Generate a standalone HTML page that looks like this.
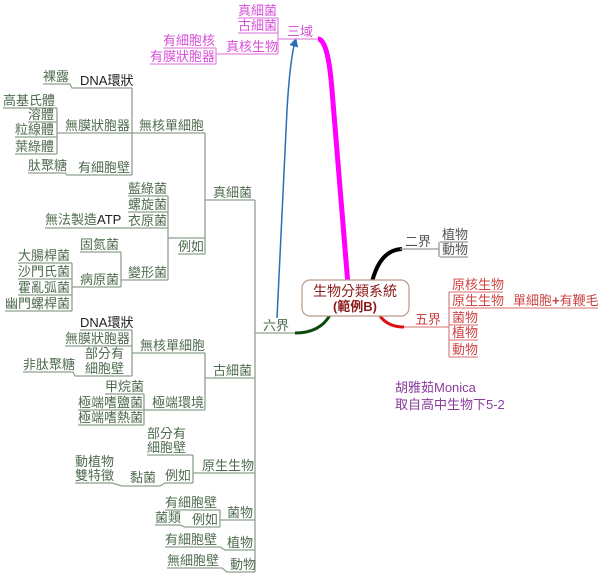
<!DOCTYPE html>
<html><head><meta charset="utf-8"><style>
html,body{margin:0;padding:0;background:#fff;width:600px;height:578px;overflow:hidden}
svg text{font-family:"Liberation Sans","Noto Sans CJK TC",sans-serif;font-size:13px}
.g{fill:#4f6b4f}.gl{stroke:#8fa08f;stroke-width:1.3;fill:none}
.m{fill:#d94fd9}.ml{stroke:#e28be2;stroke-width:1.3;fill:none}
.r{fill:#cc4444}.rl{stroke:#de8a8a;stroke-width:1.3;fill:none}
.k{fill:#555}.kl{stroke:#999;stroke-width:1.3;fill:none}
</style></head><body>
<svg width="600" height="578" viewBox="0 0 600 578" xmlns="http://www.w3.org/2000/svg">
<defs><marker id="ar" markerWidth="6" markerHeight="6" refX="3" refY="3" orient="auto"><path d="M0,0 L6,3 L0,6 z" fill="#2a6fb5"/></marker></defs>
<path d="M318,39 Q328,39 332,90 L348,285" stroke="#ff00ff" stroke-width="5" fill="none"/>
<path d="M277,318 L287,110 Q290,60 295,42" stroke="#2a6fb5" stroke-width="1.5" fill="none" marker-end="url(#ar)"/>
<path d="M372,282 Q380,250 402,249" stroke="#000" stroke-width="4" fill="none"/>
<path d="M380,316 Q388,327 404,327" stroke="#dd1111" stroke-width="3" fill="none"/>
<path d="M330,315 Q320,333 295,333" stroke="#0d4a0d" stroke-width="3" fill="none"/>
<rect x="302" y="280" width="107" height="36" rx="8" fill="#fff" stroke="#b89a8a" stroke-width="1.2"/>
<text x="355" y="296" text-anchor="middle" fill="#8b1a1a" style="font-size:14px">生物分類系統</text>
<text x="355" y="311" text-anchor="middle" fill="#8b1a1a" font-weight="bold">(範例B)</text>

<g class="ml"><path d="M238,18H278M238,33H278M226,54H278M278,18V54M278,39H318M163,48H216M150,64H216M216,48V64M216,54H226"/></g>
<g class="m"><text x="238" y="15">真細菌</text><text x="238" y="30">古細菌</text><text x="287" y="36">三域</text><text x="226" y="51">真核生物</text><text x="163" y="45">有細胞核</text><text x="150" y="61">有膜狀胞器</text></g>

<g class="gl">
<path d="M43,84H70L72,88H132M132,88V175M65,133H205M3,108H57M28,122H57M15,137H57M15,154H57M57,108V154M57,133H65M28,173H65L67,175H132"/>
<path d="M205,133V254M205,200H255M128,196H168M128,212H168M128,228H168M45,228H118L120,228H128M128,280H168M168,196V280M168,238H205M178,254H205M80,252H121M80,287H121M121,252V287M121,280H128M18,263H72M18,279H72M18,295H72M5,311H72M72,263V311M72,287H80"/>
<path d="M255,200V572M255,333H295"/>
<path d="M80,330H132M65,346H132M85,376H132M23,372H73L75,376H85M132,330V376M132,353H205M205,353V410M205,378H255M105,394H144M78,410H144M78,425H144M144,394V425M144,410H205"/>
<path d="M147,455H193M75,483H112L122,486H160L165,483H193M193,455V483M193,473H255M165,510H220M155,525H180L185,527H220M220,510V527M220,520H255M165,547H220L225,550H255M167,568H222L227,572H255"/>
</g>
<g class="g">
<text x="43" y="81">裸露</text><text x="80" y="85" fill="#222">DNA環狀</text>
<text x="3" y="105">高基氏體</text><text x="28" y="119">溶體</text><text x="15" y="134">粒線體</text><text x="15" y="151">葉綠體</text>
<text x="65" y="130">無膜狀胞器</text><text x="139" y="130">無核單細胞</text>
<text x="28" y="170">肽聚糖</text><text x="78" y="172">有細胞壁</text>
<text x="213" y="197">真細菌</text>
<text x="128" y="193">藍綠菌</text><text x="128" y="209">螺旋菌</text><text x="128" y="225">衣原菌</text><text x="45" y="224">無法製造<tspan fill="#222">ATP</tspan></text>
<text x="178" y="251">例如</text><text x="128" y="277">變形菌</text>
<text x="80" y="249">固氮菌</text><text x="80" y="284">病原菌</text>
<text x="18" y="260">大腸桿菌</text><text x="18" y="276">沙門氏菌</text><text x="18" y="292">霍亂弧菌</text><text x="5" y="308">幽門螺桿菌</text>
<text x="263" y="330">六界</text>
<text x="80" y="327" fill="#222">DNA環狀</text><text x="65" y="343">無膜狀胞器</text>
<text x="85" y="358">部分有</text><text x="85" y="373">細胞壁</text><text x="23" y="369">非肽聚糖</text>
<text x="140" y="350">無核單細胞</text><text x="213" y="375">古細菌</text>
<text x="105" y="391">甲烷菌</text><text x="78" y="407">極端嗜鹽菌</text><text x="78" y="422">極端嗜熱菌</text><text x="152" y="407">極端環境</text>
<text x="147" y="438">部分有</text><text x="147" y="452">細胞壁</text>
<text x="75" y="466">動植物</text><text x="75" y="480">雙特徵</text>
<text x="130" y="482">黏菌</text><text x="165" y="480">例如</text><text x="202" y="470">原生生物</text>
<text x="165" y="507">有細胞壁</text><text x="155" y="522">菌類</text><text x="192" y="524">例如</text><text x="227" y="517">菌物</text>
<text x="165" y="544">有細胞壁</text><text x="227" y="547">植物</text>
<text x="167" y="565">無細胞壁</text><text x="230" y="569">動物</text>
</g>

<g class="kl"><path d="M400,249H439M439,242V257M440,242H468M440,257H468"/></g>
<g class="k"><text x="405" y="246">二界</text><text x="442" y="239">植物</text><text x="442" y="254">動物</text></g>
<g class="rl"><path d="M404,327H449M449,292V357M449,292H503M449,308H598M449,325H478M449,340H478M449,357H478"/></g>
<g class="r"><text x="415" y="324">五界</text><text x="452" y="289">原核生物</text><text x="452" y="305">原生生物</text><text x="513" y="305">單細胞<tspan font-weight="bold">+</tspan>有鞭毛</text><text x="452" y="322">菌物</text><text x="452" y="337">植物</text><text x="452" y="354">動物</text></g>

<text x="395" y="392" fill="#8a3c9c">胡雅茹Monica</text>
<text x="395" y="409" fill="#8a3c9c">取自高中生物下5-2</text>
</svg>
</body></html>
